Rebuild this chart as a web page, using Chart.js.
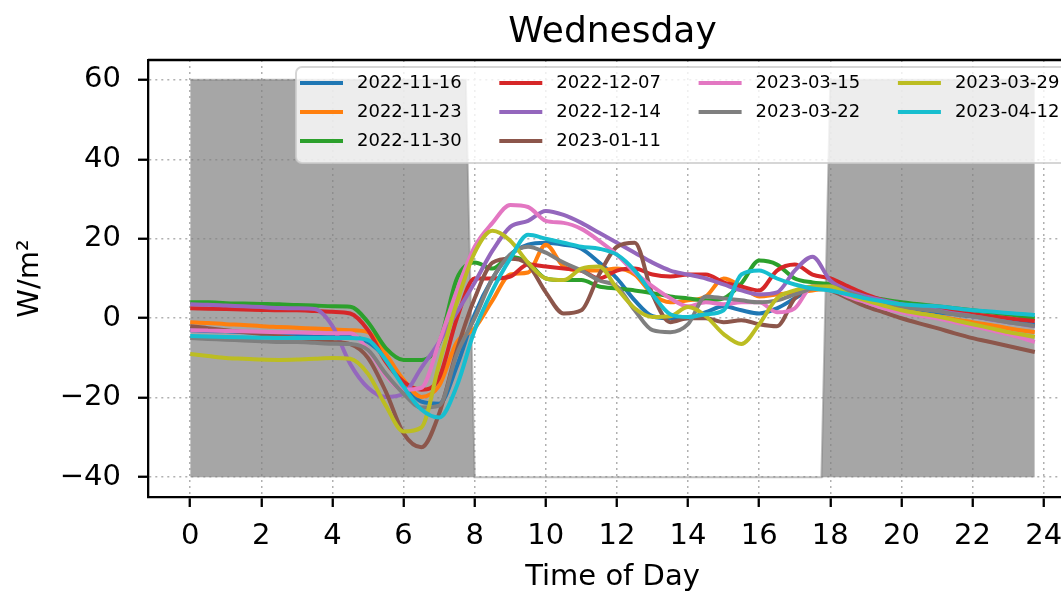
<!DOCTYPE html>
<html>
<head>
<meta charset="utf-8">
<title>Wednesday</title>
<script src="https://cdn.jsdelivr.net/npm/chart.js@4.4.0/dist/chart.umd.min.js"></script>
<style>
  html, body { margin: 0; padding: 0; overflow: hidden; background: #fff; }
  #wrap { width: 1100px; height: 593px; }
</style>
</head>
<body>
<div id="wrap"><canvas id="myChart" width="1100" height="593"></canvas></div>
<script>
// time of day (hours)
const hours = [0, 0.5, 1, 1.5, 2, 2.5, 3, 3.5, 4, 4.5,
  5, 5.5, 6, 6.5, 7, 7.5, 8, 8.5, 9, 9.5,
  10, 10.5, 11, 11.5, 12, 12.5, 13, 13.5, 14, 14.5,
  15, 15.5, 16, 16.5, 17, 17.5, 18, 18.5, 19, 19.5,
  20, 20.5, 21, 21.5, 22, 22.5, 23, 23.5, 23.75];

const dates = ["2022-11-16", "2022-11-23", "2022-11-30", "2022-12-07", "2022-12-14",
  "2023-01-11", "2023-03-15", "2023-03-22", "2023-03-29", "2023-04-12"];

const colors = ["#1f77b4", "#ff7f0e", "#2ca02c", "#d62728", "#9467bd",
  "#8c564b", "#e377c2", "#7f7f7f", "#bcbd22", "#17becf"];

// W/m² per date
const nov16 = [-3, -3.2, -3.3, -3.5, -3.6, -3.8, -4, -4.2, -4.4, -4.6,
  -6, -10, -16, -21, -21.5, -12, 1, 10, 16, 18.5,
  19, 18.5, 17.5, 14, 10, 4.5, 0.5, 0, 0, 1.5,
  3, 2, 1.2, 2.5, 5, 7.5, 8, 6.5, 5, 4,
  3, 2.2, 1.5, 1, 0.5, -0.2, -0.8, -1.3, -1.6];
const nov23 = [-1, -1.2, -1.5, -1.7, -2, -2.2, -2.4, -2.6, -2.8, -3,
  -3.5, -9, -15.5, -19.8, -17, -6, -2.5, 4.5, 11, 11.5,
  18.5, 13, 12, 12, 12.5, 11, 6, 4, 4.5, 5.5,
  10, 8, 5.5, 6, 6.5, 7, 7.5, 6, 4.5, 3,
  2, 1.2, 0.5, -0.3, -1, -1.7, -2.5, -3.2, -3.5];
const nov30 = [4, 4, 3.8, 3.7, 3.6, 3.5, 3.3, 3.2, 3, 2.9,
  -1, -7.5, -10.5, -10.5, -6.3, 10, 14, 12.5, 15.5, 14,
  10, 9.6, 9.6, 8, 7.5, 7, 6.3, 5.5, 5, 4.5,
  5, 8.8, 14.5, 13.5, 10, 9, 8.5, 7, 5.5, 4.7,
  4, 3.5, 3, 2.5, 2, 1.5, 1, 0.3, 0];
const dec07 = [2.5, 2.4, 2.3, 2.2, 2.1, 2, 2, 1.8, 1.6, 1.2,
  -3, -11, -16, -18, -15, 0, 10, 10, 10.5, 13.5,
  13, 12.5, 12, 10, 12, 12.5, 11, 10.5, 11, 11,
  9, 8, 7, 12, 13.5, 11, 10, 8, 6, 4.5,
  3.5, 3, 2.5, 1.8, 1, 0.5, 0, -0.5, -0.7];
const dec14 = [3.5, 3.4, 3.2, 3, 2.8, 2.6, 2.5, 2.3, -2, -11.5,
  -17.5, -19.8, -19, -12.5, -6, 1.5, 9, 17, 23, 24.5,
  27, 26, 24, 21.5, 19, 16.5, 14, 12, 11, 10,
  8.5, 7, 6, 6.5, 12, 15.5, 9.5, 7, 5.5, 4.5,
  3.5, 2.7, 2, 1.2, 0.5, -0.3, -1, -1.7, -2];
const jan11 = [-2, -2.5, -3, -3.5, -4, -4.5, -5, -5.5, -6, -6.5,
  -10, -18.5, -29, -32.5, -24, -8, 5, 14, 15, 13.5,
  6.5, 1.2, 2, 11, 18, 19, 6, -1, 0, 0,
  -1, -0.5, -1.5, -2, 5, 8, 7, 5, 3, 1.5,
  0, -1.3, -2.5, -3.8, -5, -6, -7, -8, -8.5];
const mar15 = [-3, -3.1, -3.2, -3.3, -3.4, -3.5, -3.6, -3.7, -3.8, -3.8,
  -8, -14.5, -18, -17.5, -6, 7, 18, 24, 28.5, 28,
  24.5, 24, 22.5, 19.5, 16, 11.5, 8, 5, 3, 4,
  3.5, 4, 4, 1.5, 2.5, 8, 7.5, 5.5, 4, 2.5,
  1.5, 0.7, 0, -1, -2, -3, -4, -5.3, -6];
const mar22 = [-5, -5.2, -5.4, -5.6, -5.8, -6, -6, -6.2, -6.4, -6.5,
  -8, -14, -19, -22.5, -22, -9, 0, 10, 16, 18,
  16.5, 14, 12, 9.5, 8, 2, -3, -3.5, -1.5, 5.5,
  5, 4.5, 4, 4.5, 6, 7.5, 8, 6.5, 5, 4,
  3, 2.3, 1.8, 1, 0.5, -0.2, -1, -1.6, -2];
const mar29 = [-9, -9.5, -10, -10.2, -10.4, -10.5, -10.4, -10.2, -10, -10.2,
  -14, -22, -28.5, -27.5, -11.5, 4, 16.5, 22, 19.5, 14,
  10, 9.6, 12.5, 13, 7.5, 2.5, 0.3, 0.5, 2.8, 0.5,
  -4, -6.5, -1.5, 5, 7, 8, 8, 6, 4.5, 3.2,
  2, 1.2, 0.5, -0.5, -1.5, -2.5, -3.5, -4.3, -4.7];
const apr12 = [-4.5, -4.6, -4.7, -4.8, -4.9, -5, -5, -5, -5, -5,
  -5.5, -10.5, -17.3, -23, -25, -17, -3, 7, 15, 21,
  20, 19, 18, 17.5, 16, 12, 6, 1, 0.3, 1,
  2, 11, 12, 10, 8.5, 7.5, 7, 6, 5, 4.2,
  3.5, 3.2, 3, 2.5, 2, 1.7, 1.3, 1, 0.8];

const allSeries = [nov16, nov23, nov30, dec07, dec14, jan11, mar15, mar22, mar29, apr12];

// night shading (before sunrise / after sunset)
const shadeHours = [0, 7.75, 8, 17.75, 18, 23.75];
const shadeValues = [60, 60, -40, -40, 60, 60];

const FONT = "DejaVu Sans";

function minusSign(value) {
  return value < 0 ? "\u2212" + Math.abs(value) : String(value);
}

let datasets = [];
for (let i = 0; i < allSeries.length; i += 1) {
  datasets.push({
    label: dates[i],
    data: hours.map((h, k) => ({ x: h, y: allSeries[i][k] })),
    borderColor: colors[i],
    backgroundColor: colors[i],
    borderWidth: 4,
    fill: false,
    order: allSeries.length - i,
  });
}
datasets.push({
  label: "night",
  data: shadeHours.map((h, k) => ({ x: h, y: shadeValues[k] })),
  borderColor: "rgba(128,128,128,0.5)",
  backgroundColor: "rgba(128,128,128,0.7)",
  borderWidth: 2,
  fill: { value: -40 },
  cubicInterpolationMode: "default",
  tension: 0,
  order: 100,
});

// top and right spines + title
const framePlugin = {
  id: "frame",
  afterDraw(chart) {
    const c = chart.ctx;
    const a = chart.chartArea;
    c.save();
    c.strokeStyle = "#000";
    c.lineWidth = 2.3;
    c.beginPath();
    c.moveTo(a.left, a.top);
    c.lineTo(a.right, a.top);
    c.lineTo(a.right, a.bottom);
    c.stroke();
    c.fillStyle = "#000";
    c.font = "36px '" + FONT + "'";
    c.textAlign = "center";
    c.textBaseline = "alphabetic";
    c.fillText("Wednesday", (a.left + a.right) / 2, 42);
    c.restore();
  },
};

// matplotlib style legend: 4 columns, filled column by column
const legendPlugin = {
  id: "mplLegend",
  afterDraw(chart) {
    const c = chart.ctx;
    const a = chart.chartArea;
    const x0 = a.left + 148;
    const y0 = a.top + 7;
    c.save();
    c.beginPath();
    c.roundRect(x0, y0, 800, 96, 6);
    c.fillStyle = "rgba(255,255,255,0.8)";
    c.fill();
    c.strokeStyle = "rgba(204,204,204,0.8)";
    c.lineWidth = 2;
    c.stroke();

    const perCol = [3, 3, 2, 2];
    let idx = 0;
    c.font = "18px '" + FONT + "'";
    c.textBaseline = "middle";
    c.textAlign = "left";
    for (let col = 0; col < perCol.length; col += 1) {
      for (let row = 0; row < perCol[col]; row += 1) {
        const hx = x0 + 4 + col * 199.3;
        const hy = y0 + 16 + row * 29;
        c.strokeStyle = colors[idx];
        c.lineWidth = 4;
        c.beginPath();
        c.moveTo(hx, hy);
        c.lineTo(hx + 43, hy);
        c.stroke();
        c.fillStyle = "#000";
        c.fillText(dates[idx], hx + 57, hy);
        idx += 1;
      }
    }
    c.restore();
  },
};

const ctx = document.getElementById("myChart").getContext("2d");
const myChart = new Chart(ctx, {
  type: "line",
  data: { datasets: datasets },
  options: {
    responsive: false,
    animation: false,
    devicePixelRatio: 1,
    layout: { padding: { top: 60, right: 23, left: 0, bottom: 0 } },
    elements: {
      point: { radius: 0, hoverRadius: 0 },
      line: { cubicInterpolationMode: "monotone" },
    },
    plugins: {
      legend: { display: false },
      title: { display: false },
      tooltip: { enabled: false },
    },
    scales: {
      x: {
        type: "linear",
        min: -1.1875,
        max: 24.9375,
        afterFit: (s) => { s.height = 96; },
        ticks: {
          stepSize: 2,
          includeBounds: false,
          autoSkip: false,
          maxRotation: 0,
          padding: 12,
          color: "#000",
          font: { family: FONT, size: 29 },
        },
        grid: { color: "#b0b0b0", lineWidth: 1.5, tickColor: "#000", tickLength: 10, tickWidth: 2.3 },
        border: { color: "#000", width: 2.3, dash: [2, 4] },
        title: {
          display: true,
          text: "Time of Day",
          color: "#000",
          font: { family: FONT, size: 29, lineHeight: 1.1 },
          padding: { top: 0, bottom: 0 },
        },
      },
      y: {
        min: -45,
        max: 65,
        afterFit: (s) => { s.width = 148; },
        ticks: {
          stepSize: 20,
          includeBounds: false,
          padding: 17,
          color: "#000",
          font: { family: FONT, size: 29 },
          callback: minusSign,
        },
        grid: { color: "#b0b0b0", lineWidth: 1.5, tickColor: "#000", tickLength: 10, tickWidth: 2.3 },
        border: { color: "#000", width: 2.3, dash: [2, 4] },
        title: {
          display: true,
          text: "W/m²",
          color: "#000",
          font: { family: FONT, size: 29, lineHeight: 1.2 },
          padding: { top: 13, bottom: 0 },
        },
      },
    },
  },
  plugins: [framePlugin, legendPlugin],
});
</script>
</body>
</html>
